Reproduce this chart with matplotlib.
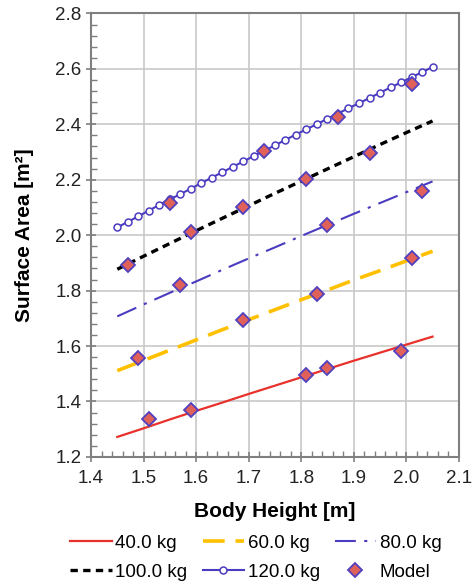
#!/usr/bin/env python3

# Body surface area vs. body height for several body weights,
# with model points overlaid.

import numpy as np
import matplotlib.pyplot as plt
from matplotlib.ticker import MultipleLocator

plt.rcParams['font.family'] = ['Liberation Sans', 'DejaVu Sans']

# heights for the weight curves [m]
heights = [1.45, 1.50, 1.55, 1.60, 1.65, 1.70, 1.75, 1.80, 1.85, 1.90, 1.95, 2.00, 2.05]
area_40 = [1.272, 1.303, 1.335, 1.366, 1.396, 1.427, 1.457, 1.487, 1.517, 1.547, 1.576, 1.605, 1.634]
area_60 = [1.511, 1.548, 1.585, 1.622, 1.659, 1.695, 1.731, 1.767, 1.802, 1.838, 1.872, 1.907, 1.942]
area_80 = [1.707, 1.750, 1.792, 1.833, 1.875, 1.916, 1.956, 1.997, 2.037, 2.077, 2.116, 2.155, 2.194]
area_100 = [1.877, 1.924, 1.970, 2.016, 2.061, 2.106, 2.151, 2.195, 2.239, 2.283, 2.327, 2.370, 2.412]

# 120 kg curve has a marker every 2 cm
heights_120 = [1.45, 1.47, 1.49, 1.51, 1.53, 1.55, 1.57, 1.59, 1.61, 1.63, 1.65,
               1.67, 1.69, 1.71, 1.73, 1.75, 1.77, 1.79, 1.81, 1.83, 1.85, 1.87,
               1.89, 1.91, 1.93, 1.95, 1.97, 1.99, 2.01, 2.03, 2.05]
area_120 = [2.028, 2.048, 2.068, 2.089, 2.109, 2.129, 2.148, 2.168, 2.188, 2.208, 2.227,
            2.247, 2.266, 2.286, 2.305, 2.324, 2.344, 2.363, 2.382, 2.401, 2.420, 2.439,
            2.458, 2.476, 2.495, 2.514, 2.533, 2.551, 2.570, 2.588, 2.607]

# model points
model_h = [1.51, 1.59, 1.81, 1.85, 1.99,
           1.49, 1.69, 1.83, 2.01,
           1.57, 1.85, 2.03,
           1.47, 1.59, 1.69, 1.81, 1.93,
           1.55, 1.73, 1.87, 2.01]
model_a = [1.335, 1.370, 1.497, 1.522, 1.582,
           1.555, 1.695, 1.788, 1.919,
           1.819, 2.036, 2.160,
           1.894, 2.013, 2.102, 2.204, 2.298,
           2.116, 2.303, 2.427, 2.547]

fig = plt.figure(figsize=(4.74, 5.85), dpi=100)
ax = fig.add_axes([0.192, 0.219, 0.776, 0.758])

l40, = ax.plot(heights, area_40, color="#e8312b", lw=1.6, label="40.0 kg")
l60, = ax.plot(heights, area_60, color="#ffc000", lw=2.6, dashes=(6, 3), label="60.0 kg")
l80, = ax.plot(heights, area_80, color="#4a3cc0", lw=1.5, dashes=(10, 4, 1.5, 4), label="80.0 kg")
l100, = ax.plot(heights, area_100, color="black", lw=2.4, dashes=(2.2, 1.6), label="100.0 kg")
l120, = ax.plot(heights_120, area_120, color="#4a3cc0", lw=1.5, marker="o", ms=5,
                mfc="white", mec="#4a3cc0", mew=1.1, label="120.0 kg")
lmod, = ax.plot(model_h, model_a, ls="none", marker="D", ms=7.3, mfc="#e0605a",
                mec="#5040c0", mew=1.3, label="Model", zorder=5)

ax.set_xlim(1.4, 2.1)
ax.set_ylim(1.2, 2.8)
ax.xaxis.set_major_locator(MultipleLocator(0.1))
ax.xaxis.set_minor_locator(MultipleLocator(0.02))
ax.yaxis.set_major_locator(MultipleLocator(0.2))
ax.yaxis.set_minor_locator(MultipleLocator(0.04))
ax.xaxis.set_major_formatter(plt.FormatStrFormatter("%.1f"))
ax.yaxis.set_major_formatter(plt.FormatStrFormatter("%.1f"))

ax.grid(True, which="major", color="#c8c8c8", lw=1.2)
ax.set_axisbelow(True)
for s in ax.spines.values():
    s.set_color("#7f7f7f")
    s.set_linewidth(1.5)
ax.tick_params(which="major", direction="inout", length=7, width=1.2,
               color="#7f7f7f", labelsize=13.5, labelcolor="#222222")
ax.tick_params(axis="x", which="major", pad=6)
ax.tick_params(which="minor", direction="in", length=4, width=1.0, color="#7f7f7f")

ax.set_xlabel("Body Height [m]", fontsize=15, fontweight="bold", labelpad=11)
ax.set_ylabel("Surface Area [m²]", fontsize=15, fontweight="bold", labelpad=15)

# legend filled column by column, so order handles to read row-wise
handles = [l40, l100, l60, l120, l80, lmod]
fig.legend(handles, [h.get_label() for h in handles],
           loc="lower center", bbox_to_anchor=(0.54, -0.022), ncol=3, frameon=False,
           fontsize=13.5, handlelength=2.2, columnspacing=0.8, handletextpad=0.2,
           labelspacing=0.65)

fig.savefig("out.png", dpi=100)
